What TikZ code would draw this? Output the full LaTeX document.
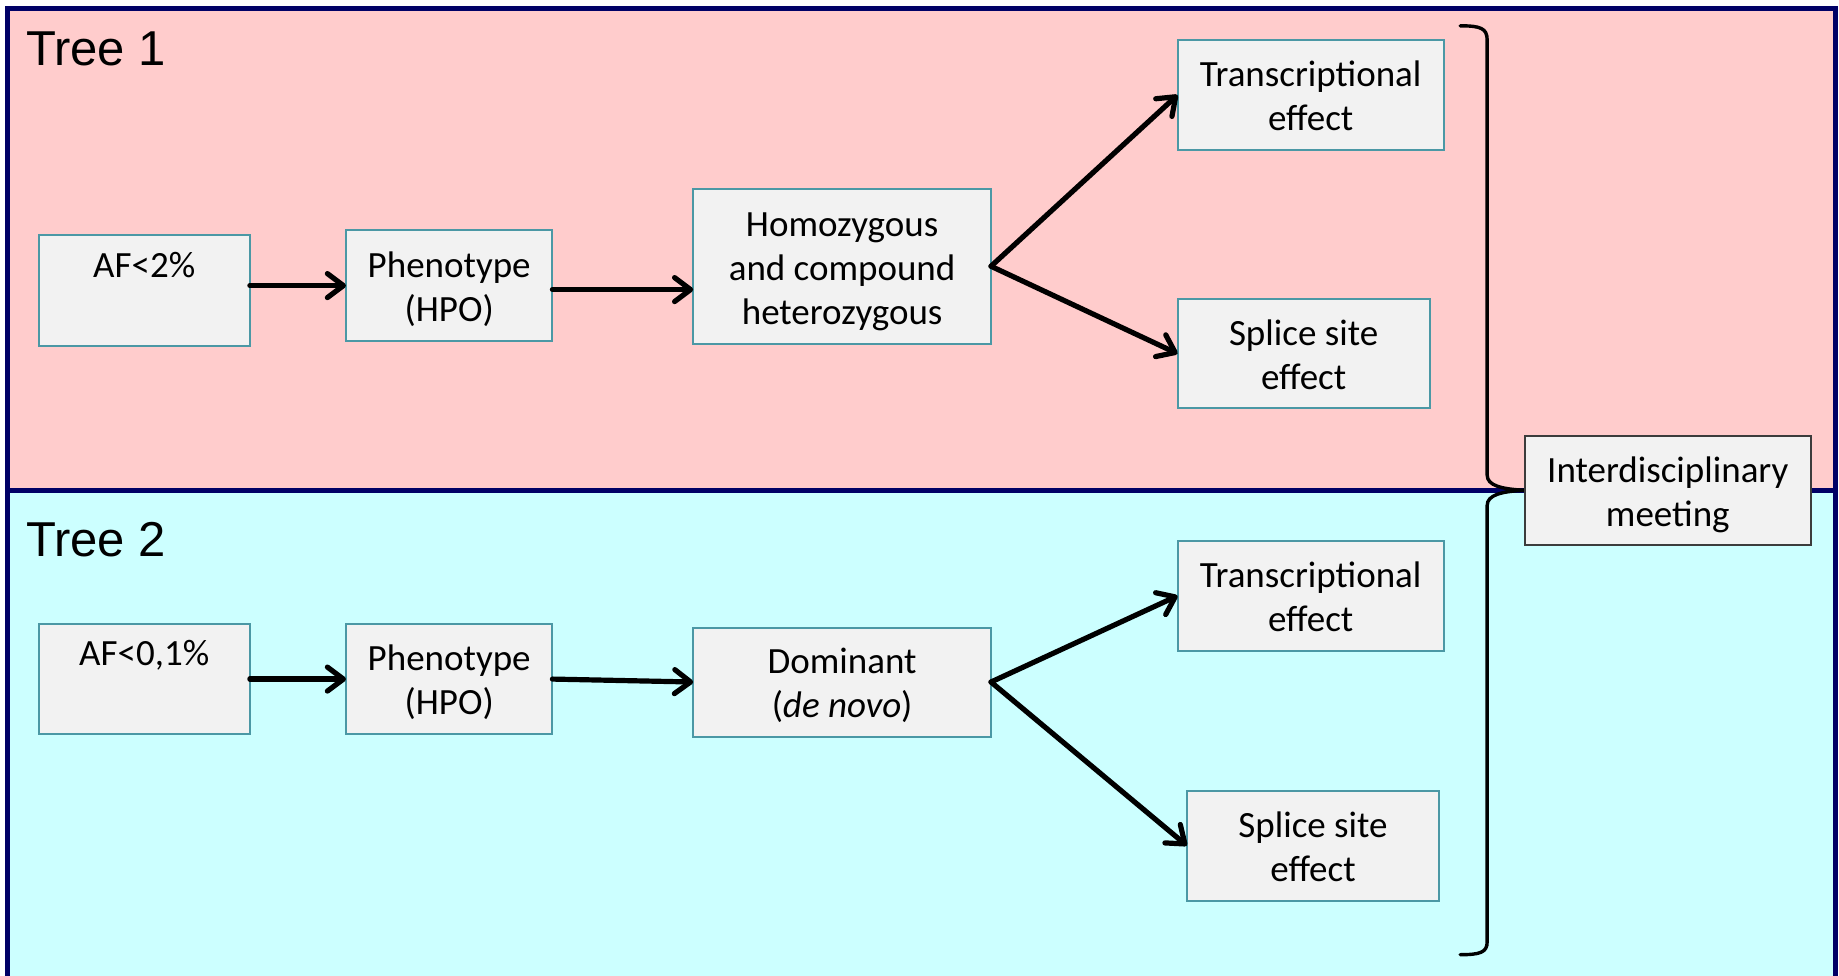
\documentclass[tikz,border=0pt]{standalone}
\usepackage{fontspec}
\setmainfont{Carlito}
\newfontfamily\treefont{Liberation Sans}
\usetikzlibrary{arrows.meta}

\definecolor{frame}{RGB}{0,0,102}
\definecolor{pinkbg}{RGB}{255,204,204}
\definecolor{cyanbg}{RGB}{204,255,255}
\definecolor{boxfill}{RGB}{242,242,242}
\definecolor{boxline}{RGB}{75,152,165}
\definecolor{meetline}{RGB}{60,60,60}

% top strut for the first line of a box label
\newcommand{\tstrut}{\rule{0pt}{18.8pt}}

\tikzset{
  stepbox/.style={draw=boxline, line width=1pt, fill=boxfill, inner sep=0pt,
    outer sep=0pt, align=center,
    font=\fontsize{18.5}{22}\selectfont,
    execute at end node={\rule[-5pt]{0pt}{5pt}}},
  meetbox/.style={stepbox, draw=meetline},
  flow/.style={line width=2.6pt, line cap=round,
    -{Straight Barb[length=8pt,width=12pt,line width=2.6pt,round]}},
  bracket/.style={line width=1.7pt, line cap=round},
  treelabel/.style={anchor=base west, inner sep=0pt,
    font=\treefont\fontsize{24.5}{28}\selectfont},
}

\begin{document}
\begin{tikzpicture}[x=0.5864pt, y=-0.5864pt]
  \useasboundingbox (0,0) rectangle (1568,832);
  \clip (0,0) rectangle (1568,832);

  % panels
  \fill[pinkbg] (6,7) rectangle (1565,418);
  \fill[cyanbg] (6,418) rectangle (1565,850);
  \draw[frame, line width=2.5pt] (6,7) rectangle (1565,850);
  \draw[frame, line width=2.5pt] (6,418) -- (1565,418);

  \node[treelabel] (t1) at (22,55.5) {Tree 1};
  \node[treelabel] (t2) at (22,474.5) {Tree 2};

  % tree 1
  \node[stepbox, minimum width=105.6pt, minimum height=55.7pt] (af1) at (123,247.5) {\tstrut AF<2\%\\[5pt]\mbox{}};
  \node[stepbox, minimum width=103.2pt, minimum height=55.7pt] (ph1) at (383,243.5) {\tstrut Phenotype\\(HPO)};
  \node[stepbox, minimum width=148.9pt, minimum height=77.4pt] (ho1) at (718,227) {\tstrut Homozygous\\and compound\\heterozygous};
  \node[stepbox, minimum width=133.1pt, minimum height=55.1pt] (tr1) at (1117.5,81) {\tstrut Transcriptional\\effect};
  \node[stepbox, minimum width=126.1pt, minimum height=54.5pt] (sp1) at (1111.5,301.5) {\tstrut Splice site\\effect};

  % tree 2
  \node[stepbox, minimum width=105.6pt, minimum height=55.1pt] (af2) at (123,579) {\tstrut AF<0,1\%\\[5pt]\mbox{}};
  \node[stepbox, minimum width=103.2pt, minimum height=55.1pt] (ph2) at (383,579) {\tstrut Phenotype\\(HPO)};
  \node[stepbox, minimum width=148.9pt, minimum height=54.5pt] (do2) at (718,581.5) {\tstrut Dominant\\(\textit{de novo})};
  \node[stepbox, minimum width=133.1pt, minimum height=55.1pt] (tr2) at (1117.5,508) {\tstrut Transcriptional\\effect};
  \node[stepbox, minimum width=126.1pt, minimum height=55.1pt] (sp2) at (1119.5,721) {\tstrut Splice site\\effect};

  % connectors
  \draw[flow] (af1.east |- ph1.west) -- (ph1.west);
  \draw[flow] ([yshift=-2pt]ph1.east) -- ([yshift=-2pt]ph1.east -| ho1.west);
  \draw[flow] (ho1.east) -- (tr1.west);
  \draw[flow] (ho1.east) -- (sp1.west);
  \draw[flow] (af2.east) -- (ph2.west);
  \draw[flow] (ph2.east) -- (do2.west);
  \draw[flow] (do2.east) -- (tr2.west);
  \draw[flow] (do2.east) -- (sp2.west);

  % brace gathering both trees
  \coordinate (btop) at (1245,22);
  \coordinate (bbot) at (1245,814);
  \draw[bracket] (btop) .. controls (1262,22) and (1268,24) .. (1268,34)
    -- (1268,405) .. controls (1268,414) and (1280,417) .. (1300,418)
    .. controls (1280,419) and (1268,422) .. (1268,431)
    -- (1268,803) .. controls (1268,812) and (1262,814) .. (bbot);

  \node[meetbox, minimum width=143.1pt, minimum height=54.5pt] (meet) at (1422,418.5) {\tstrut Interdisciplinary\\meeting};
\end{tikzpicture}
\end{document}
